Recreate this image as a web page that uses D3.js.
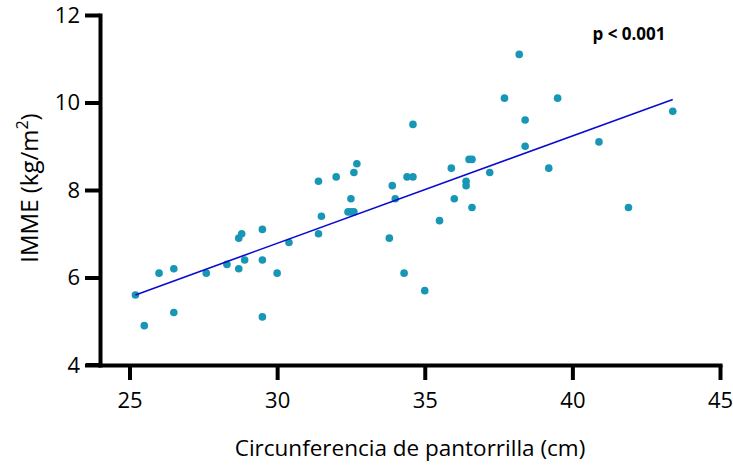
<!DOCTYPE html>
<html>
<head>
<meta charset="utf-8">
<script src="https://cdn.jsdelivr.net/npm/d3@7"></script>
<style>
  body { margin: 0; background: #fff; }
  text { font-family: "Open Sans", sans-serif; fill: #000; }
</style>
</head>
<body>
<script>
// calf circumference (cm) vs IMME (kg/m2)
var calf = [25.2, 25.5, 26.0, 26.5, 26.5, 27.6, 28.3, 28.7, 28.7, 28.8, 28.9, 29.5, 29.5, 29.5, 30.0, 30.4,
            31.4, 31.4, 31.5, 32.0, 32.5, 32.4, 32.5, 32.6, 32.6, 32.7, 33.8, 33.9, 34.0, 34.3, 34.4, 34.6,
            34.6, 35.0, 35.5, 35.9, 36.0, 36.4, 36.4, 36.5, 36.6, 36.6, 37.2, 37.7, 38.2, 38.4, 38.4, 39.2,
            39.5, 40.9, 41.9, 43.4];
var imme = [5.6, 4.9, 6.1, 6.2, 5.2, 6.1, 6.3, 6.2, 6.9, 7.0, 6.4, 7.1, 6.4, 5.1, 6.1, 6.8,
            8.2, 7.0, 7.4, 8.3, 7.8, 7.5, 7.5, 7.5, 8.4, 8.6, 6.9, 8.1, 7.8, 6.1, 8.3, 8.3,
            9.5, 5.7, 7.3, 8.5, 7.8, 8.2, 8.1, 8.7, 8.7, 7.6, 8.4, 10.1, 11.1, 9.6, 9.0, 8.5,
            10.1, 9.1, 7.6, 9.8];

var xTicks = [25, 30, 35, 40, 45];
var yTicks = [4, 6, 8, 10, 12];

// fitted line ends
var fitX = [25.2, 43.4];
var fitSlope = 0.2455, fitIntercept = -0.584;

var w = 733, h = 468;

var svg = d3.select("body").append("svg")
    .attr("width", w)
    .attr("height", h);

var x = d3.scaleLinear().domain([24, 45]).range([100, 720]);
var y = d3.scaleLinear().domain([4, 12]).range([365, 15]);

// axes
var xAxis = svg.append("g")
    .attr("transform", "translate(0,365)")
    .call(d3.axisBottom(x).tickValues(xTicks).tickSize(15).tickSizeOuter(0).tickPadding(12));
var yAxis = svg.append("g")
    .attr("transform", "translate(100,0)")
    .call(d3.axisLeft(y).tickValues(yTicks).tickSize(15).tickSizeOuter(0).tickPadding(5));

[xAxis, yAxis].forEach(function (g) {
    g.select(".domain").attr("stroke", "#000").attr("stroke-width", 4).attr("stroke-linecap", "square");
    g.selectAll(".tick line").attr("stroke", "#000").attr("stroke-width", 4);
    g.selectAll(".tick text").style("font-family", "Open Sans").style("font-size", "22px").attr("fill", "#000");
});
// x axis line runs under the y axis to meet the 4 tick
svg.append("line")
    .attr("x1", 86).attr("x2", 100).attr("y1", 365).attr("y2", 365)
    .attr("stroke", "#000").attr("stroke-width", 4);

// points
svg.append("g").selectAll("circle")
    .data(calf.map(function (d, i) { return [d, imme[i]]; }))
    .enter()
    .append("circle")
    .attr("cx", function (d) { return x(d[0]); })
    .attr("cy", function (d) { return y(d[1]); })
    .attr("r", 3.8)
    .attr("fill", "#1797b5");

// regression line
svg.append("line")
    .attr("x1", x(fitX[0])).attr("y1", y(fitSlope * fitX[0] + fitIntercept))
    .attr("x2", x(fitX[1])).attr("y2", y(fitSlope * fitX[1] + fitIntercept))
    .attr("stroke", "#0a0ad0")
    .attr("stroke-width", 1.6);

// titles
svg.append("text")
    .attr("x", 410).attr("y", 456)
    .attr("text-anchor", "middle")
    .style("font-size", "22.5px")
    .text("Circunferencia de pantorrilla (cm)");

var yt = svg.append("text")
    .attr("transform", "translate(38,188) rotate(-90)")
    .attr("text-anchor", "middle")
    .style("font-size", "24px");
yt.append("tspan").text("IMME (kg/m");
yt.append("tspan").attr("dy", -10).style("font-size", "16px").text("2");
yt.append("tspan").attr("dy", 10).text(")");

svg.append("text")
    .attr("x", 629).attr("y", 40)
    .attr("text-anchor", "middle")
    .style("font-size", "17px")
    .style("font-weight", "bold")
    .text("p < 0.001");
</script>
</body>
</html>
